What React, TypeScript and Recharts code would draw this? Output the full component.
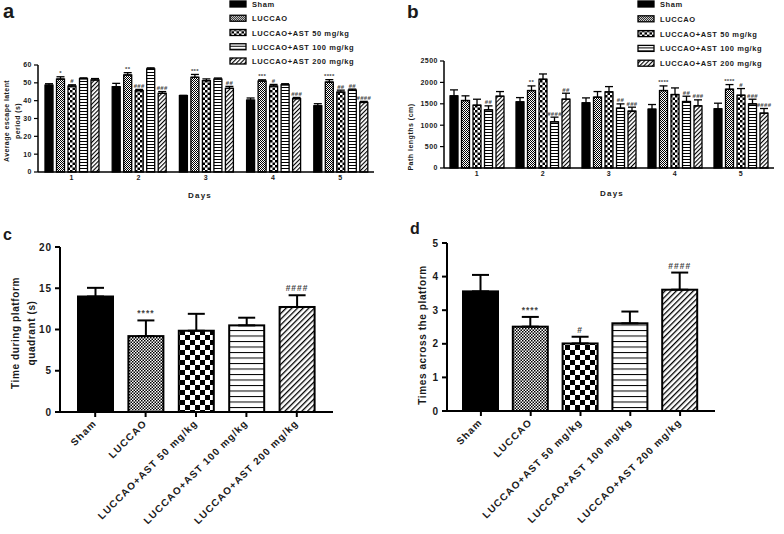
import React from "react";
import { BarChart, Bar, XAxis, YAxis, ErrorBar, Legend, Cell } from "recharts";

const FONT = '"Liberation Sans", Arial, sans-serif';
const INK = "#1a1a1a";

const groups = [
  "Sham",
  "LUCCAO",
  "LUCCAO+AST 50 mg/kg",
  "LUCCAO+AST 100 mg/kg",
  "LUCCAO+AST 200 mg/kg",
];
const keys = ["sham", "luccao", "ast50", "ast100", "ast200"];
const days = ["1", "2", "3", "4", "5"];

// a - average escape latent period (s), day 1..5 per group
const latencySham = [48.7, 47.8, 42.8, 40.3, 37.1];
const latencyLuccao = [52.1, 54.4, 53.1, 51.0, 50.4];
const latency50 = [48.2, 45.6, 51.2, 48.2, 44.8];
const latency100 = [52.3, 57.8, 52.1, 48.9, 45.9];
const latency200 = [51.6, 44.1, 46.9, 41.1, 39.0];
const latencyErr = [
  [0.8, 1.9, 0.2, 1.2, 1.2],
  [1.3, 1.3, 1.6, 0.7, 1.4],
  [0.7, 0.7, 1.0, 0.9, 1.1],
  [0.5, 0.6, 0.6, 0.6, 0.6],
  [0.8, 1.0, 1.1, 0.7, 0.6],
];
const latencySig = [
  ["", "", "", "", ""],
  ["*", "**", "***", "***", "****"],
  ["#", "###", "", "#", "##"],
  ["", "", "", "", "##"],
  ["", "###", "##", "###", "####"],
];

// b - path lengths (cm)
const pathSham = [1685, 1545, 1522, 1374, 1382];
const pathLuccao = [1576, 1809, 1654, 1809, 1840];
const path50 = [1467, 2073, 1778, 1716, 1700];
const path100 = [1359, 1079, 1398, 1553, 1498];
const path200 = [1677, 1607, 1328, 1452, 1281];
const pathErr = [
  [140, 100, 116, 109, 132],
  [110, 109, 132, 109, 109],
  [140, 124, 124, 155, 156],
  [93, 109, 100, 124, 109],
  [109, 140, 93, 140, 109],
];
const pathSig = [
  ["", "", "", "", ""],
  ["", "**", "", "****", "****"],
  ["", "", "", "", "#"],
  ["##", "####", "##", "##", "###"],
  ["", "##", "###", "###", "####"],
];

// c - time during platform quadrant (s)
const quadrantMean = [14.0, 9.2, 9.85, 10.5, 12.73];
const quadrantErr = [1.05, 1.9, 2.05, 0.93, 1.42];
const quadrantSig = ["", "****", "", "", "####"];

// d - times across the platform
const crossMean = [3.56, 2.51, 2.01, 2.61, 3.61];
const crossErr = [0.49, 0.29, 0.2, 0.35, 0.51];
const crossSig = ["", "****", "#", "", "####"];

const fillsSmall = ["#000", "url(#lucS)", "url(#chkS)", "url(#horS)", "url(#diaS)"];
const fillsLarge = ["#000", "url(#lucL)", "url(#chkL)", "url(#horL)", "url(#diaL)"];

function byDay(values: number[][], errs: number[][], sigs: string[][]) {
  return days.map((day, d) => {
    const row: any = { day };
    keys.forEach((k, g) => {
      row[k] = values[g][d];
      row[k + "Err"] = [0, errs[g][d]];
      row[k + "Sig"] = sigs[g][d];
    });
    return row;
  });
}

function byGroup(mean: number[], err: number[], sig: string[]) {
  return groups.map((name, i) => ({ name, mean: mean[i], err: [0, err[i]], sig: sig[i] }));
}

const latencyData = byDay(
  [latencySham, latencyLuccao, latency50, latency100, latency200],
  latencyErr,
  latencySig
);
const pathData = byDay([pathSham, pathLuccao, path50, path100, path200], pathErr, pathSig);
const quadrantData = byGroup(quadrantMean, quadrantErr, quadrantSig);
const crossData = byGroup(crossMean, crossErr, crossSig);

// bar with outline + significance marks above the error cap
function sigShape(valKey: string, errKey: string, sigKey: string, fs: number, sw: number, gap: number) {
  return (p: any) => {
    const { x, y, width, height, fill, payload } = p;
    const val = payload[valKey];
    const err = payload[errKey][1];
    const top = val ? y - (err * height) / val : y;
    const sig = payload[sigKey];
    return (
      <g>
        <rect x={x} y={y} width={width} height={height} fill={fill} stroke="#000" strokeWidth={sw} />
        {sig ? (
          <text
            x={x + width / 2}
            y={top - gap}
            textAnchor="middle"
            fontSize={fs}
            fontFamily={FONT}
            fontWeight={700}
            letterSpacing={fs > 7 ? 1 : 0.3}
            fill="#444"
          >
            {sig}
          </text>
        ) : null}
      </g>
    );
  };
}

function legendContent(rowGap: number, textX: number) {
  return (props: any) => {
    const items = [...(props.payload || [])].sort(
      (a: any, b: any) => groups.indexOf(a.value) - groups.indexOf(b.value)
    );
    return (
      <svg width={170} height={80} style={{ overflow: "visible" }}>
        {items.map((it: any, i: number) => (
          <g key={i} transform={`translate(0, ${i * rowGap})`}>
            <rect x={1} y={1} width={16} height={6} fill={it.color} stroke="#000" strokeWidth={1.3} />
            <text
              x={textX}
              y={7}
              fontSize={7.5}
              fontFamily={FONT}
              fontWeight={700}
              letterSpacing={0.6}
              fill={INK}
            >
              {it.value}
            </text>
          </g>
        ))}
      </svg>
    );
  };
}

const smallTick = { fontSize: 7, fontWeight: 700, fill: INK, fontFamily: FONT, letterSpacing: 0.5 };
const bigTick = { fontSize: 10, fontWeight: 700, fill: INK, fontFamily: FONT, letterSpacing: 1 };

const SlantTick = (p: any) => {
  const { x, y, payload } = p;
  const ax = x + 2;
  const ay = y + 5;
  return (
    <text
      x={ax}
      y={ay}
      transform={`rotate(-45 ${ax} ${ay})`}
      textAnchor="end"
      fontSize={10}
      fontWeight={700}
      fontFamily={FONT}
      letterSpacing={1.1}
      fill={INK}
    >
      {payload.value}
    </text>
  );
};

function GroupedPanel(props: {
  data: any[];
  width: number;
  yWidth: number;
  top: number;
  right: number;
  xHeight: number;
  max: number;
  ticks: number[];
  legendLeft: number;
  rowGap: number;
}) {
  const { data, width, yWidth, top, right, xHeight, max, ticks, legendLeft, rowGap } = props;
  return (
    <BarChart
      width={width}
      height={210}
      data={data}
      margin={{ top, right, bottom: 0, left: 0 }}
      barSize={8}
      barGap={3.5}
    >
      <XAxis
        dataKey="day"
        height={xHeight}
        tickLine={false}
        tickSize={0}
        tickMargin={3}
        axisLine={{ stroke: "#000", strokeWidth: 1.5 }}
        tick={smallTick}
      />
      <YAxis
        width={yWidth}
        domain={[0, max]}
        ticks={ticks}
        interval={0}
        tickSize={4}
        tickMargin={2}
        axisLine={{ stroke: "#000", strokeWidth: 1.5 }}
        tickLine={{ stroke: "#000", strokeWidth: 1.2 }}
        tick={smallTick}
      />
      <Legend
        layout="horizontal"
        verticalAlign="middle"
        align="center"
        wrapperStyle={{ left: legendLeft, top: 0, width: 170, height: 80 }}
        content={legendContent(rowGap, 23)}
      />
      {keys.map((k, i) => (
        <Bar
          key={k}
          dataKey={k}
          name={groups[i]}
          fill={fillsSmall[i]}
          isAnimationActive={false}
          shape={sigShape(k, k + "Err", k + "Sig", 6, 1.3, 1.5)}
        >
          <ErrorBar dataKey={k + "Err"} direction="y" width={4} stroke="#000" strokeWidth={1.3} />
        </Bar>
      ))}
    </BarChart>
  );
}

function SinglePanel(props: {
  data: any[];
  yWidth: number;
  top: number;
  right: number;
  xHeight: number;
  padL: number;
  padR: number;
  max: number;
  ticks: number[];
}) {
  const { data, yWidth, top, right, xHeight, padL, padR, max, ticks } = props;
  return (
    <BarChart width={392} height={314} data={data} margin={{ top, right, bottom: 0, left: 0 }} barSize={35}>
      <XAxis
        dataKey="name"
        height={xHeight}
        interval={0}
        padding={{ left: padL, right: padR }}
        tickSize={5}
        tickMargin={2}
        axisLine={{ stroke: "#000", strokeWidth: 2 }}
        tickLine={{ stroke: "#000", strokeWidth: 2 }}
        tick={<SlantTick />}
      />
      <YAxis
        width={yWidth}
        domain={[0, max]}
        ticks={ticks}
        interval={0}
        tickSize={5}
        tickMargin={3}
        axisLine={{ stroke: "#000", strokeWidth: 2 }}
        tickLine={{ stroke: "#000", strokeWidth: 2 }}
        tick={bigTick}
      />
      <Bar dataKey="mean" isAnimationActive={false} shape={sigShape("mean", "err", "sig", 8.5, 2, 4)}>
        {data.map((_, i) => (
          <Cell key={i} fill={fillsLarge[i]} />
        ))}
        <ErrorBar dataKey="err" direction="y" width={8.5} stroke="#000" strokeWidth={2} />
      </Bar>
    </BarChart>
  );
}

function Patterns() {
  return (
    <svg width={0} height={0} style={{ position: "absolute" }}>
      <defs>
        <pattern id="lucS" width={2} height={2} patternUnits="userSpaceOnUse">
          <rect width={2} height={2} fill="#fff" />
          <rect width={1} height={1} fill="#000" />
          <rect x={1} y={1} width={1} height={1} fill="#000" />
        </pattern>
        <pattern id="chkS" width={5} height={5} patternUnits="userSpaceOnUse">
          <rect width={5} height={5} fill="#fff" />
          <rect width={2.5} height={2.5} fill="#000" />
          <rect x={2.5} y={2.5} width={2.5} height={2.5} fill="#000" />
        </pattern>
        <pattern id="horS" width={3} height={3} patternUnits="userSpaceOnUse">
          <rect width={3} height={3} fill="#fff" />
          <rect width={3} height={1} fill="#000" />
        </pattern>
        <pattern id="diaS" width={3} height={3} patternUnits="userSpaceOnUse" patternTransform="rotate(45)">
          <rect width={3} height={3} fill="#fff" />
          <rect width={1.1} height={3} fill="#000" />
        </pattern>
        <pattern id="lucL" width={3} height={3} patternUnits="userSpaceOnUse">
          <rect width={3} height={3} fill="#fff" />
          <rect width={1.5} height={1.5} fill="#000" />
          <rect x={1.5} y={1.5} width={1.5} height={1.5} fill="#000" />
        </pattern>
        <pattern id="chkL" width={10} height={10} patternUnits="userSpaceOnUse">
          <rect width={10} height={10} fill="#fff" />
          <rect width={5} height={5} fill="#000" />
          <rect x={5} y={5} width={5} height={5} fill="#000" />
        </pattern>
        <pattern id="horL" width={5.5} height={5.5} patternUnits="userSpaceOnUse">
          <rect width={5.5} height={5.5} fill="#fff" />
          <rect width={5.5} height={1} fill="#000" />
        </pattern>
        <pattern id="diaL" width={4} height={4} patternUnits="userSpaceOnUse" patternTransform="rotate(45)">
          <rect width={4} height={4} fill="#fff" />
          <rect width={1.3} height={4} fill="#000" />
        </pattern>
      </defs>
    </svg>
  );
}

const titleStyle = { fontFamily: FONT, fontWeight: 700, fill: INK } as const;

export default function App() {
  return (
    <div
      style={{
        position: "absolute",
        left: 0,
        top: 0,
        width: 784,
        height: 534,
        background: "#fff",
        overflow: "hidden",
        fontFamily: FONT,
      }}
    >
      <Patterns />
      <div style={{ position: "absolute", left: 0, top: 0 }}>
        <GroupedPanel
          data={latencyData}
          width={390}
          yWidth={38}
          top={65}
          right={16}
          xHeight={38}
          max={60}
          ticks={[0, 10, 20, 30, 40, 50, 60]}
          legendLeft={229}
          rowGap={14.25}
        />
      </div>
      <div style={{ position: "absolute", left: 390, top: 0 }}>
        <GroupedPanel
          data={pathData}
          width={394}
          yWidth={54}
          top={61}
          right={10}
          xHeight={42}
          max={2500}
          ticks={[0, 500, 1000, 1500, 2000, 2500]}
          legendLeft={247}
          rowGap={14.8}
        />
      </div>
      <div style={{ position: "absolute", left: 0, top: 220 }}>
        <SinglePanel
          data={quadrantData}
          yWidth={60}
          top={27}
          right={59}
          xHeight={122}
          padL={10}
          padR={11}
          max={20}
          ticks={[0, 5, 10, 15, 20]}
        />
      </div>
      <div style={{ position: "absolute", left: 390, top: 220 }}>
        <SinglePanel
          data={crossData}
          yWidth={57}
          top={23}
          right={67}
          xHeight={123}
          padL={9}
          padR={10}
          max={5}
          ticks={[0, 1, 2, 3, 4, 5]}
        />
      </div>
      <svg
        width={784}
        height={534}
        style={{ position: "absolute", left: 0, top: 0, pointerEvents: "none" }}
      >
        <text x={3} y={18} fontSize={20} {...titleStyle}>a</text>
        <text x={407} y={18} fontSize={19} {...titleStyle}>b</text>
        <text x={3} y={240} fontSize={16} {...titleStyle}>c</text>
        <text x={410} y={234} fontSize={16} {...titleStyle}>d</text>

        <text transform="translate(9 121) rotate(-90)" textAnchor="middle" fontSize={7} letterSpacing={0.4} {...titleStyle}>
          Average escape latent
        </text>
        <text transform="translate(20 121) rotate(-90)" textAnchor="middle" fontSize={7} letterSpacing={0.4} {...titleStyle}>
          period (s)
        </text>
        <text x={200} y={198} textAnchor="middle" fontSize={8} letterSpacing={1.2} {...titleStyle}>Days</text>

        <text transform="translate(413 137) rotate(-90)" textAnchor="middle" fontSize={7} letterSpacing={0.5} {...titleStyle}>
          Path lengths (cm)
        </text>
        <text x={612} y={196} textAnchor="middle" fontSize={8} letterSpacing={1.2} {...titleStyle}>Days</text>

        <text transform="translate(19 333) rotate(-90)" textAnchor="middle" fontSize={10} letterSpacing={0.6} {...titleStyle}>
          Time during platform
        </text>
        <text transform="translate(35 333) rotate(-90)" textAnchor="middle" fontSize={10} letterSpacing={0.6} {...titleStyle}>
          quadrant (s)
        </text>

        <text transform="translate(426 335) rotate(-90)" textAnchor="middle" fontSize={10} letterSpacing={0.6} {...titleStyle}>
          Times across the platform
        </text>
      </svg>
    </div>
  );
}
